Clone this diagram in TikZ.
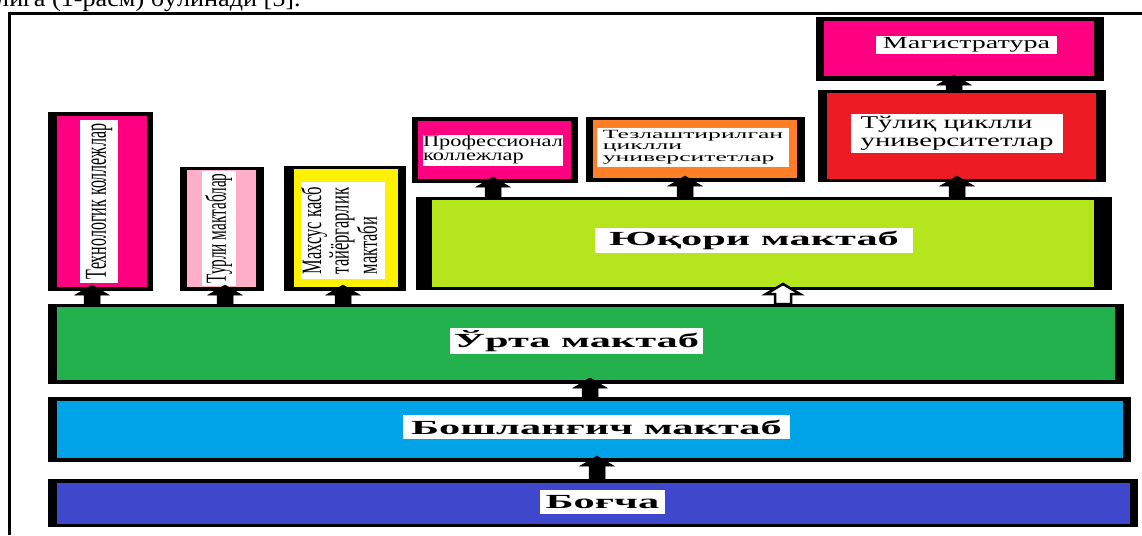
\documentclass[tikz,border=0pt]{standalone}
\usepackage{fontspec}
\setmainfont{Liberation Serif}
\usepackage{graphicx}
\usetikzlibrary{fit,calc}
\definecolor{cmag}{HTML}{FF0080}
\definecolor{clpink}{HTML}{FFAEC9}
\definecolor{cyel}{HTML}{FFF200}
\definecolor{clime}{HTML}{B5E61D}
\definecolor{corange}{HTML}{FF7F27}
\definecolor{cred}{HTML}{ED1C24}
\definecolor{cgreen}{HTML}{22B14C}
\definecolor{cblue}{HTML}{00A2E8}
\definecolor{cindigo}{HTML}{3F48CC}
\newcommand\blockarr[4][solidarr]{%
  \path[#1] let \p1=(#2.north -| #4), \p2=(#3.south -| #4) in
  (\x1-8pt,\y1) -- (\x1-8pt,\y2-4pt) -- (\x1-17pt,\y2-4pt) -- (\x1,\y2+6pt)
  -- (\x1+17pt,\y2-4pt) -- (\x1+8pt,\y2-4pt) -- (\x1+8pt,\y1) -- cycle;}
\newcommand\bigtxt[1]{\scalebox{2.12}[1]{\fontsize{20}{22}\selectfont\bfseries #1}}
\newcommand\htxt[4]{\scalebox{#1}[1]{\fontsize{#2}{#3}\selectfont\begin{tabular}{@{}l@{}}#4\end{tabular}}}
\newcommand\vtxt[4]{\rotatebox{90}{\scalebox{1}[#1]{\fontsize{#2}{#3}\selectfont\begin{tabular}{@{}l@{}}#4\end{tabular}}}}
\begin{document}
\begin{tikzpicture}[x=1pt,y=-1pt,
  outer/.style={fill=black, draw=none, inner sep=0pt, outer sep=0pt},
  lbl/.style={fill=white, draw=none, inner sep=0pt, outer sep=0pt, text=black},
  solidarr/.style={fill=black, draw=black, line width=0.5pt},
  hollowarr/.style={fill=white, draw=black, line width=2.5pt, line join=miter}]
\useasboundingbox (0,0) rectangle (1142,535);
\fill[white] (0,0) rectangle (1142,535);
% cut-off text line above the frame
\node[anchor=base west, inner sep=0pt] (toptxt) at (-4,7)
  {\scalebox{1.09}[1]{\fontsize{24}{26}\selectfont лига (1-расм) бўлинади [5].}};
% frame
\draw[line width=3pt] (9.5,535) -- (9.5,13.5) -- (1142,13.5);

% boxes
\node[outer, fit={(48,112) (153,291)}] (tech) {};
\fill[cmag] (57,116) rectangle (147,287);
\node[outer, fit={(180,167) (264,291)}] (turli) {};
\fill[clpink] (187,170) rectangle (256,287);
\node[outer, fit={(284,166) (406,291)}] (maxsus) {};
\fill[cyel] (294,169) rectangle (398,287);
\node[outer, fit={(416,197) (1112,290)}] (yuqori) {};
\fill[clime] (432,200) rectangle (1094,287);
\node[outer, fit={(412,117) (578,183)}] (prof) {};
\fill[cmag] (418,121) rectangle (571,179);
\node[outer, fit={(586,117) (805,182)}] (tez) {};
\fill[corange] (593,120) rectangle (797,178);
\node[outer, fit={(818,90) (1106,182)}] (tuliq) {};
\fill[cred] (827,93) rectangle (1096,179);
\node[outer, fit={(816,17) (1104,81)}] (magistr) {};
\fill[cmag] (824,21) rectangle (1094,76);
\node[outer, fit={(48,304) (1124,384)}] (urta) {};
\fill[cgreen] (57,307) rectangle (1115,380);
\node[outer, fit={(48,397) (1131,462)}] (bosh) {};
\fill[cblue] (57,401) rectangle (1123,458);
\node[outer, fit={(48,479) (1138,527)}] (bogcha) {};
\fill[cindigo] (57,483) rectangle (1130,524);

% labels
\node[lbl, minimum width=38pt, minimum height=163pt] (techl) at (99,201.5)
  {\vtxt{1.9}{16}{18}{Технологик коллежлар}};
\node[lbl, minimum width=34pt, minimum height=115pt] (turlil) at (219,228.5)
  {\vtxt{1.9}{15.3}{18}{Турли мактаблар}};
\node[lbl, minimum width=82pt, minimum height=97pt] (maxsusl) at (343,230.5)
  {\vtxt{1.7}{16.5}{16}{Махсус касб\\тайёргарлик\\мактаби}};
\node[lbl, minimum width=140pt, minimum height=31pt] (profl) at (493,150.5)
  {\htxt{1.4}{16}{14}{Профессионал\\коллежлар}};
\node[lbl, minimum width=192pt, minimum height=39pt] (tezl) at (693,147.5)
  {\htxt{2.05}{12.5}{11.5}{Тезлаштирилган\\циклли\\университетлар}};
\node[lbl, minimum width=212pt, minimum height=39pt] (tuliql) at (957,133.5)
  {\htxt{1.6}{18}{18}{Тўлиқ циклли\\университетлар}};
\node[lbl, minimum width=181pt, minimum height=18pt] (magistrl) at (966.5,45)
  {\htxt{1.65}{17}{18}{Магистратура}};
\node[lbl, minimum width=318pt, minimum height=25pt] (yuqoril) at (754,240.5)
  {\bigtxt{Юқори мактаб}};
\node[lbl, minimum width=253pt, minimum height=26pt] (urtal) at (576.5,341)
  {\bigtxt{Ўрта мактаб}};
\node[lbl, minimum width=387pt, minimum height=24pt] (boshl) at (596.5,427)
  {\bigtxt{Бошланғич мактаб}};
\node[lbl, minimum width=125pt, minimum height=24pt] (bogchal) at (602.5,502)
  {\bigtxt{Боғча}};

% arrow x positions
\coordinate (xtech) at (92,0);
\coordinate (xturli) at (225,0);
\coordinate (xmaxsus) at (343,0);
\coordinate (xyuq) at (783,0);
\coordinate (xprof) at (493,0);
\coordinate (xtez) at (685,0);
\coordinate (xtuliq) at (957,0);
\coordinate (xmag) at (954,0);
\coordinate (xurta) at (590,0);
\coordinate (xbosh) at (597,0);

% arrows
\blockarr{urta}{tech}{xtech}
\blockarr{urta}{turli}{xturli}
\blockarr{urta}{maxsus}{xmaxsus}
\blockarr[hollowarr]{urta}{yuqori}{xyuq}
\blockarr{yuqori}{prof}{xprof}
\blockarr{yuqori}{tez}{xtez}
\blockarr{yuqori}{tuliq}{xtuliq}
\blockarr{tuliq}{magistr}{xmag}
\blockarr{bosh}{urta}{xurta}
\blockarr{bogcha}{bosh}{xbosh}
\end{tikzpicture}
\end{document}
